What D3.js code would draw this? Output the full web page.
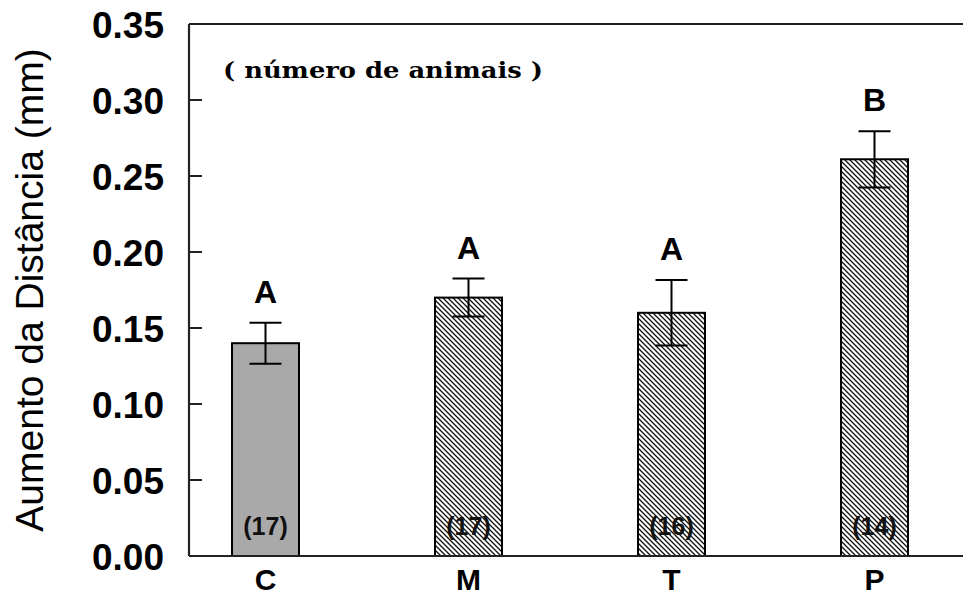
<!DOCTYPE html>
<html>
<head>
<meta charset="utf-8">
<script src="https://cdn.jsdelivr.net/npm/d3@7"></script>
<style>
  html, body { margin: 0; padding: 0; background: #fff; }
  svg { display: block; }
</style>
</head>
<body>
<svg id="chart" width="963" height="598"></svg>
<script>
// ---- data ----
const categories = ["C", "M", "T", "P"];
const means      = [0.140, 0.170, 0.160, 0.261];
const errors     = [0.0135, 0.0125, 0.0215, 0.0185];
const groupLetters = ["A", "A", "A", "B"];
const animalCounts = ["(17)", "(17)", "(16)", "(14)"];
const hatched    = [false, true, true, true];
const yTicks     = [0.00, 0.05, 0.10, 0.15, 0.20, 0.25, 0.30, 0.35];
const yTitle     = "Aumento da Distância (mm)";
const noteText   = "( número de animais )";

(function () {
// ---- layout ----
const mLeft = 189, mTop = 24, mBottom = 556, mRight = 963;

const svg = d3.select("#chart");

const defs = svg.append("defs");
const pat = defs.append("pattern")
  .attr("id", "hatch")
  .attr("patternUnits", "userSpaceOnUse")
  .attr("width", 5).attr("height", 5);
pat.append("rect").attr("width", 5).attr("height", 5).attr("fill", "#fff");
pat.append("path")
  .attr("d", "M0,0 L5,5 M-1,4 L1,6 M4,-1 L6,1")
  .attr("stroke", "#111").attr("stroke-width", 1.3);

const y = d3.scaleLinear().domain([0, 0.35]).range([mBottom, mTop]);
const x = d3.scaleBand().domain(categories).range([164, 976])
  .paddingInner(0.67).paddingOuter(0.335);

const data = categories.map((c, i) => ({
  cat: c, mean: means[i], err: errors[i], letter: groupLetters[i],
  n: animalCounts[i], hatch: hatched[i]
}));

// y tick labels
const yAxis = d3.axisLeft(y).tickValues(yTicks).tickFormat(d3.format(".2f"))
  .tickSize(0).tickPadding(0);
const ga = svg.append("g").attr("transform", `translate(${mLeft - 25},0)`).call(yAxis);
ga.select(".domain").remove();
ga.selectAll("text")
  .attr("font-family", "Liberation Sans, Arial, sans-serif")
  .attr("font-weight", "bold").attr("font-size", 37).attr("fill", "#000")
  .attr("dy", "0.36em");

// inner ticks
svg.append("g").selectAll("line")
  .data(yTicks.filter(t => t > 0 && t < 0.35))
  .join("line")
  .attr("x1", mLeft).attr("x2", mLeft + 13)
  .attr("y1", d => y(d)).attr("y2", d => y(d))
  .attr("stroke", "#222").attr("stroke-width", 2);

// bars
const bars = svg.append("g");
bars.selectAll("rect")
  .data(data).join("rect")
  .attr("x", d => x(d.cat))
  .attr("y", d => y(d.mean))
  .attr("width", x.bandwidth())
  .attr("height", d => y(0) - y(d.mean))
  .attr("fill", d => d.hatch ? "url(#hatch)" : "#a9a9a9")
  .attr("stroke", "#000").attr("stroke-width", 2);

// counts inside bars
bars.selectAll("text.n")
  .data(data).join("text")
  .attr("class", "n")
  .attr("x", d => x(d.cat) + x.bandwidth() / 2)
  .attr("y", mBottom - 21)
  .attr("text-anchor", "middle")
  .attr("font-family", "Liberation Sans, Arial, sans-serif")
  .attr("font-weight", "bold").attr("font-size", 25).attr("fill", "#111")
  .text(d => d.n);

// error bars
const capW = 32;
const eb = svg.append("g").attr("stroke", "#000").attr("stroke-width", 2);
data.forEach(d => {
  const cx = x(d.cat) + x.bandwidth() / 2;
  const yt = y(d.mean + d.err), yb = y(d.mean - d.err);
  eb.append("line").attr("x1", cx).attr("x2", cx).attr("y1", yt).attr("y2", yb);
  eb.append("line").attr("x1", cx - capW / 2).attr("x2", cx + capW / 2).attr("y1", yt).attr("y2", yt);
  eb.append("line").attr("x1", cx - capW / 2).attr("x2", cx + capW / 2).attr("y1", yb).attr("y2", yb);
});

// group letters
svg.append("g").selectAll("text")
  .data(data).join("text")
  .attr("x", d => x(d.cat) + x.bandwidth() / 2)
  .attr("y", d => y(d.mean + d.err) - 20)
  .attr("text-anchor", "middle")
  .attr("font-family", "Liberation Sans, Arial, sans-serif")
  .attr("font-weight", "bold").attr("font-size", 32).attr("fill", "#000")
  .text(d => d.letter);

// category labels
svg.append("g").selectAll("text")
  .data(data).join("text")
  .attr("x", d => x(d.cat) + x.bandwidth() / 2)
  .attr("y", 590)
  .attr("text-anchor", "middle")
  .attr("font-family", "Liberation Sans, Arial, sans-serif")
  .attr("font-weight", "bold").attr("font-size", 30).attr("fill", "#000")
  .text(d => d.cat);

// frame lines
const fr = svg.append("g").attr("stroke", "#222").attr("stroke-width", 2.2);
fr.append("line").attr("x1", mLeft).attr("x2", mLeft).attr("y1", mTop).attr("y2", mBottom);
fr.append("line").attr("x1", mLeft).attr("x2", mRight).attr("y1", mTop).attr("y2", mTop);
fr.append("line").attr("x1", mLeft).attr("x2", mRight).attr("y1", mBottom).attr("y2", mBottom);

// note text
svg.append("text")
  .attr("x", 223).attr("y", 78)
  .attr("font-family", "DejaVu Serif, serif")
  .attr("font-weight", "bold").attr("font-size", 23)
  .attr("textLength", 320).attr("lengthAdjust", "spacingAndGlyphs")
  .attr("fill", "#000")
  .text(noteText);

// y title
svg.append("text")
  .attr("transform", `translate(43,290) rotate(-90)`)
  .attr("text-anchor", "middle")
  .attr("font-family", "Liberation Sans, Arial, sans-serif")
  .attr("font-size", 39).attr("fill", "#000")
  .text(yTitle);
})();
</script>
</body>
</html>
